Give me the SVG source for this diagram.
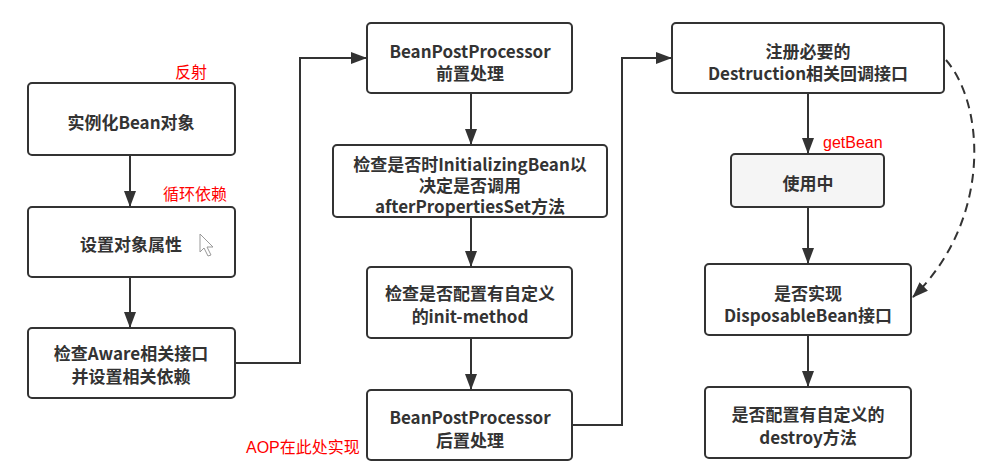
<svg xmlns="http://www.w3.org/2000/svg" width="986" height="465" viewBox="0 0 986 465">
<style>
.box{fill:#fff;stroke:#333;stroke-width:2}
.t{font-family:"Noto Sans CJK SC","Noto Sans",sans-serif;font-size:17px;font-weight:bold;fill:#333;text-anchor:middle;dominant-baseline:central}
.r{font-family:"Liberation Sans","Noto Sans CJK SC",sans-serif;font-size:16px;fill:#f00}
.c{fill:none;stroke:#333;stroke-width:2}
</style>
<defs>
<marker id="ah2" markerWidth="16" markerHeight="12" refX="15" refY="6" orient="auto" markerUnits="userSpaceOnUse"><path d="M0,0 L16,6 L0,12 Z" fill="#333"/></marker>
</defs>
<rect width="986" height="465" fill="#fff"/>
<g id="connectors">
<path class="c" d="M130,155 V206" marker-end="url(#ah2)"/>
<path class="c" d="M130,277 V327" marker-end="url(#ah2)"/>
<path class="c" d="M235,363 H300 V58 H366" marker-end="url(#ah2)"/>
<path class="c" d="M471,93 V144" marker-end="url(#ah2)"/>
<path class="c" d="M471,217 V266" marker-end="url(#ah2)"/>
<path class="c" d="M471,338 V389" marker-end="url(#ah2)"/>
<path class="c" d="M572,425 H622 V58 H671" marker-end="url(#ah2)"/>
<path class="c" d="M808,93 V153" marker-end="url(#ah2)"/>
<path class="c" d="M808,207 V263" marker-end="url(#ah2)"/>
<path class="c" d="M808,335 V386" marker-end="url(#ah2)"/>
<path class="c" d="M946,60 C985,105 992,220 913,297" stroke-dasharray="9,6" marker-end="url(#ah2)"/>
</g>
<g id="n1"><rect class="box" x="28" y="83" width="207" height="72" rx="4"/><text class="t" x="131" y="121">实例化Bean对象</text></g>
<g id="n2"><rect class="box" x="28" y="207" width="207" height="70" rx="4"/><text class="t" x="131" y="243">设置对象属性</text></g>
<g id="n3"><rect class="box" x="28" y="328" width="207" height="70" rx="4"/><text class="t" x="131" y="352">检查Aware相关接口</text><text class="t" x="131" y="375">并设置相关依赖</text></g>
<g id="n4"><rect class="box" x="367" y="23" width="205" height="70" rx="4"/><text class="t" x="470" y="50">BeanPostProcessor</text><text class="t" x="470" y="72">前置处理</text></g>
<g id="n5"><rect class="box" x="333" y="145" width="274" height="72" rx="4"/><text class="t" x="470" y="163">检查是否时InitializingBean以</text><text class="t" x="470" y="184">决定是否调用</text><text class="t" x="470" y="205">afterPropertiesSet方法</text></g>
<g id="n6"><rect class="box" x="367" y="267" width="205" height="71" rx="4"/><text class="t" x="470" y="292">检查是否配置有自定义</text><text class="t" x="470" y="315">的init-method</text></g>
<g id="n7"><rect class="box" x="367" y="390" width="205" height="70" rx="4"/><text class="t" x="470" y="416">BeanPostProcessor</text><text class="t" x="470" y="439">后置处理</text></g>
<g id="n8"><rect class="box" x="672" y="23" width="272" height="70" rx="4"/><text class="t" x="808" y="50">注册必要的</text><text class="t" x="808" y="72">Destruction相关回调接口</text></g>
<g id="n9"><rect class="box" x="731" y="154" width="153" height="53" rx="4" style="fill:#f5f5f5"/><text class="t" x="808" y="182">使用中</text></g>
<g id="n10"><rect class="box" x="705" y="264" width="206" height="71" rx="4"/><text class="t" x="808" y="292">是否实现</text><text class="t" x="808" y="314">DisposableBean接口</text></g>
<g id="n11"><rect class="box" x="705" y="387" width="206" height="71" rx="4"/><text class="t" x="808" y="413">是否配置有自定义的</text><text class="t" x="808" y="436">destroy方法</text></g>
<g id="labels">
<text class="r" x="175" y="78">反射</text>
<text class="r" x="163" y="200">循环依赖</text>
<text class="r" x="823" y="148">getBean</text>
<text class="r" x="246" y="453">AOP在此处实现</text>
</g>
<path d="M200,234 L200,252 L204,248 L208,256 L211,255 L207,247 L213,247 Z" fill="#fff" stroke="#999" stroke-width="1"/>
</svg>
